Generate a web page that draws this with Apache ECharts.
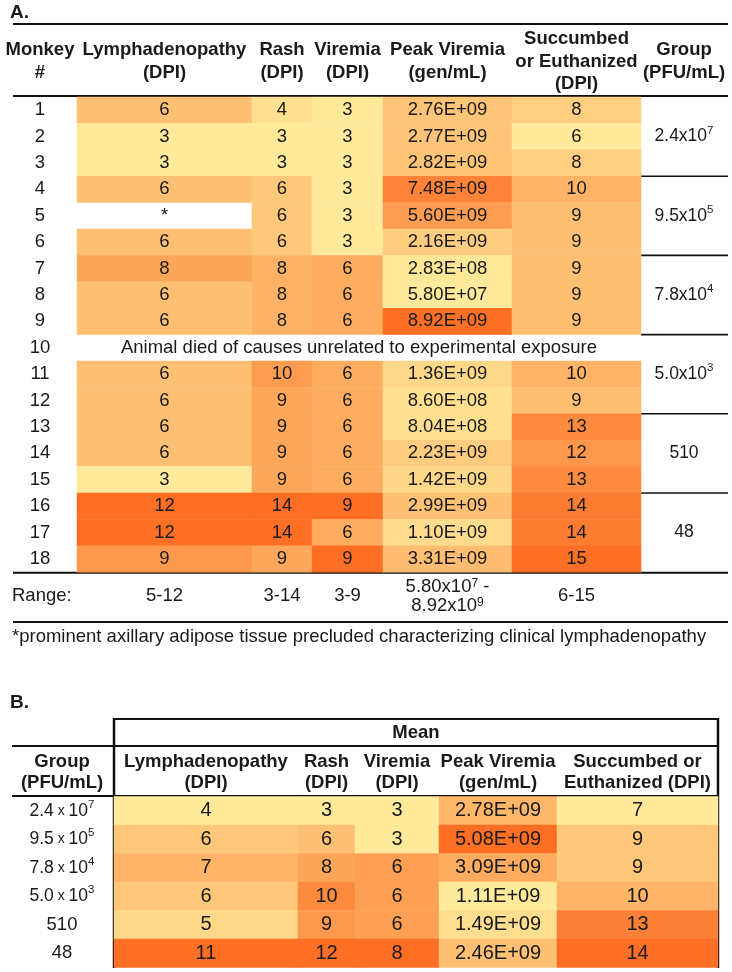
<!DOCTYPE html>
<html><head><meta charset="utf-8">
<script src="https://cdn.jsdelivr.net/npm/echarts@6/dist/echarts.min.js"></script>
<style>html,body{margin:0;padding:0;background:#fff}#c{width:732px;height:972px}</style>
</head><body><div id="c"></div>
<script>
// ---------- DATA: Table A ----------
const monkeys = ['1','2','3','4','5','6','7','8','9','10','11','12','13','14','15','16','17','18'];
const lymph    = [6,3,3,6,null,6,8,6,6,null,6,6,6,6,3,12,12,9];
const rash     = [4,3,3,6,6,6,8,8,8,null,10,9,9,9,9,14,14,9];
const viremia  = [3,3,3,3,3,3,6,6,6,null,6,6,6,6,6,9,6,9];
const peak     = [2.76e9,2.77e9,2.82e9,7.48e9,5.60e9,2.16e9,2.83e8,5.80e7,8.92e9,null,1.36e9,8.60e8,8.04e8,2.23e9,1.42e9,2.99e9,1.10e9,3.31e9];
const succumbed= [8,6,8,10,9,9,9,9,9,null,10,9,13,12,13,14,14,15];
const groupBaseA = ['2.4x10','9.5x10','7.8x10','5.0x10','510','48'];
const groupExpA  = ['7','5','4','3','',''];
const groupLabelRowA = [1,4,7,10,13,16];
const groupEndRowA = [3,6,9,12,15];
const rangeA = ['5-12','3-14','3-9','5.80x10{s|7} -\n8.92x10{s|9}','6-15'];
const headersA = ['Lymphadenopathy\n(DPI)','Rash\n(DPI)','Viremia\n(DPI)','Peak Viremia\n(gen/mL)','Succumbed\nor Euthanized\n(DPI)'];
const missingNote = 'Animal died of causes unrelated to experimental exposure';
const footnote = '*prominent axillary adipose tissue precluded characterizing clinical lymphadenopathy';

// ---------- DATA: Table B ----------
const groupMantB = ['2.4','9.5','7.8','5.0','510','48'];
const groupExpB  = ['7','5','4','3','',''];
const lymphB   = [4,6,7,6,5,11];
const rashB    = [3,6,8,10,9,12];
const viremiaB = [3,3,6,6,6,8];
const peakB    = [2.78e9,5.08e9,3.09e9,1.11e9,1.49e9,2.46e9];
const succB    = [7,9,9,10,13,14];
const headersB = ['Lymphadenopathy\n(DPI)','Rash\n(DPI)','Viremia\n(DPI)','Peak Viremia\n(gen/mL)','Succumbed or\nEuthanized (DPI)'];

// ---------- LAYOUT ----------
const FONT = '"Liberation Sans", Arial, sans-serif';
const TXT = '#1a1a1a';
const LIGHT = '#FFEA9B', DARK = '#FC6F25';
const A = {top: 97, rowH: 26.4, cols: [[77,175],[252,60],[312,71],[383,129],[512,129]], groupCol: [641,86]};
const B = {top: 796.5, rowH: 28.5, cols: [[114,184],[298,57],[355,84],[439,118],[557,161]]};
const fsA = 18.5, fsB = 20;

function sci(v){
  const e = Math.floor(Math.log10(v) + 1e-9);
  const m = v / Math.pow(10, e);
  return m.toFixed(2) + 'E+' + String(e).padStart(2,'0');
}

const grids = [], xAxes = [], yAxes = [], series = [], visualMaps = [], graphic = [];

function addColumn(layout, colIdx, rowsCat, values, isSci, fs, yAxisExtra){
  const gi = grids.length;
  const [left, width] = layout.cols[colIdx];
  grids.push({left, width, top: layout.top, height: layout.rowH * rowsCat.length});
  xAxes.push({type:'category', gridIndex: gi, data:['v'], show:false});
  yAxes.push(Object.assign({type:'category', gridIndex: gi, data: rowsCat, inverse:true, show:false,
    axisLine:{show:false}, axisTick:{show:false}, splitLine:{show:false}}, yAxisExtra || {}));
  const data = [];
  values.forEach((v,i)=>{ if (v !== null) data.push([0, i, v]); });
  const si = series.length;
  series.push({type:'heatmap', xAxisIndex: gi, yAxisIndex: gi, data,
    label:{show:true, color: TXT, fontFamily: FONT, fontSize: fs,
      formatter: p => isSci ? sci(p.value[2]) : String(p.value[2])},
    itemStyle:{borderWidth:0}, emphasis:{disabled:true}, silent:true, progressive:0});
  const vals = values.filter(v => v !== null);
  visualMaps.push({type:'continuous', show:false, seriesIndex: si, dimension: 2,
    min: Math.min(...vals), max: Math.max(...vals), inRange:{color:[LIGHT, DARK]}});
}

// Table A columns
const monkeyAxis = {show:true, axisLabel:{show:true, align:'center', margin: 37, color: TXT, fontFamily: FONT, fontSize: fsA}};
addColumn(A, 0, monkeys, lymph, false, fsA, monkeyAxis);
addColumn(A, 1, monkeys, rash, false, fsA);
addColumn(A, 2, monkeys, viremia, false, fsA);
addColumn(A, 3, monkeys, peak, true, fsA);
addColumn(A, 4, monkeys, succumbed, false, fsA);

// Group column A (labels via category axis)
(function(){
  const gi = grids.length;
  grids.push({left: A.groupCol[0], width: A.groupCol[1], top: A.top, height: A.rowH * monkeys.length});
  xAxes.push({type:'category', gridIndex: gi, data:['g'], show:false});
  yAxes.push({type:'category', gridIndex: gi, data: monkeys, inverse:true, show:true,
    axisLine:{show:false}, axisTick:{show:false}, splitLine:{show:false},
    axisLabel:{show:true, inside:true, align:'center', margin: 43, interval: 0, color: TXT, fontFamily: FONT, fontSize: 17.5,
      formatter: (val, idx) => {
        const g = groupLabelRowA.indexOf(idx);
        if (g < 0) return '';
        return groupBaseA[g] + (groupExpA[g] ? '{s|' + groupExpA[g] + '}' : '');
      },
      rich:{s:{fontSize: 11.5, verticalAlign:'top', padding:[0,0,12,0], color: TXT, fontFamily: FONT}}}});
})();

// Table B columns
const groupsBLabels = groupMantB.map((b,i)=>String(i));
const groupAxisB = {show:true, axisLabel:{show:true, align:'center', margin: 52, interval:0, color: TXT, fontFamily: FONT, fontSize: 18.5,
  formatter: (val, idx) => groupExpB[idx]
      ? '{b|' + groupMantB[idx] + '}{x| x }{b|10}{s|' + groupExpB[idx] + '}'
      : groupMantB[idx],
  rich:{b:{fontSize: 17.5, color: TXT, fontFamily: FONT},
        x:{fontSize: 14, color: TXT, fontFamily: FONT},
        s:{fontSize: 11.5, verticalAlign:'top', padding:[0,0,12,0], color: TXT, fontFamily: FONT}}}};
addColumn(B, 0, groupsBLabels, lymphB, false, fsB, groupAxisB);
addColumn(B, 1, groupsBLabels, rashB, false, fsB);
addColumn(B, 2, groupsBLabels, viremiaB, false, fsB);
addColumn(B, 3, groupsBLabels, peakB, true, fsB);
addColumn(B, 4, groupsBLabels, succB, false, fsB);

// ---------- GRAPHIC: text and rules ----------
function hline(x1,x2,y,w){ graphic.push({type:'line', shape:{x1,y1:y,x2,y2:y}, style:{stroke:'#111', lineWidth:w||2}, silent:true}); }
function vline(x,y1,y2,w){ graphic.push({type:'line', shape:{x1:x,y1,x2:x,y2}, style:{stroke:'#111', lineWidth:w||2}, silent:true}); }
function text(t,x,y,opt){ graphic.push({type:'text', x, y, style:Object.assign({text:t, fill:TXT, font: fsA + 'px ' + FONT, align:'center', verticalAlign:'middle'}, opt||{}), silent:true}); }
const bold = 'bold ' + fsA + 'px ' + FONT;

// Table A
text('A.', 10, 13, {font:'bold 19px ' + FONT, align:'left'});
hline(13, 728, 24, 2);
text('Monkey\n#', 40, 61.5, {font: bold, lineHeight: 23});
headersA.forEach((h,i)=>{ const [l,w] = A.cols[i]; text(h, l + w/2, 61.5, {font: bold, lineHeight: 22.5}); });
text('Group\n(PFU/mL)', A.groupCol[0] + A.groupCol[1]/2, 61.5, {font: bold, lineHeight: 22.5});
hline(13, 728, 96, 2);
groupEndRowA.forEach(r => hline(A.groupCol[0], 728, A.top + r * A.rowH, 1.6));
text(missingNote, (A.cols[0][0] + A.cols[4][0] + A.cols[4][1]) / 2, A.top + 9.5 * A.rowH);
text('*', A.cols[0][0] + A.cols[0][1]/2, A.top + 4.5 * A.rowH);
const bottomA = A.top + monkeys.length * A.rowH;
hline(13, 728, bottomA + 0.5, 2);
text('Range:', 12, bottomA + 24, {align:'left'});
rangeA.forEach((r,i)=>{ const [l,w] = A.cols[i];
  graphic.push({type:'text', x: l + w/2, y: bottomA + 24, silent:true,
    style:{text:r, fill:TXT, font: fsA + 'px ' + FONT, align:'center', verticalAlign:'middle', lineHeight: 19,
      rich:{s:{fontSize:12, verticalAlign:'top', fill:TXT, fontFamily:FONT}}}}); });
hline(13, 728, 622, 2);
text(footnote, 12, 637, {align:'left'});

// Table B
text('B.', 10, 703, {font:'bold 19px ' + FONT, align:'left'});
hline(114, 718, 719, 2);
text('Mean', 416, 733, {font: bold});
hline(12, 718, 746, 2);
text('Group\n(PFU/mL)', 62, 772, {font: bold, lineHeight: 21});
headersB.forEach((h,i)=>{ const [l,w] = B.cols[i]; text(h, l + w/2, 772, {font: bold, lineHeight: 21}); });
hline(12, 718, 796, 2);
vline(114, 718, 968, 2.5);
vline(718, 718, 968, 2.5);

const chart = echarts.init(document.getElementById('c'), null, {renderer:'canvas'});
chart.setOption({
  animation:false,
  backgroundColor:'#fff',
  grid: grids, xAxis: xAxes, yAxis: yAxes, visualMap: visualMaps, series, graphic
});
</script></body></html>
